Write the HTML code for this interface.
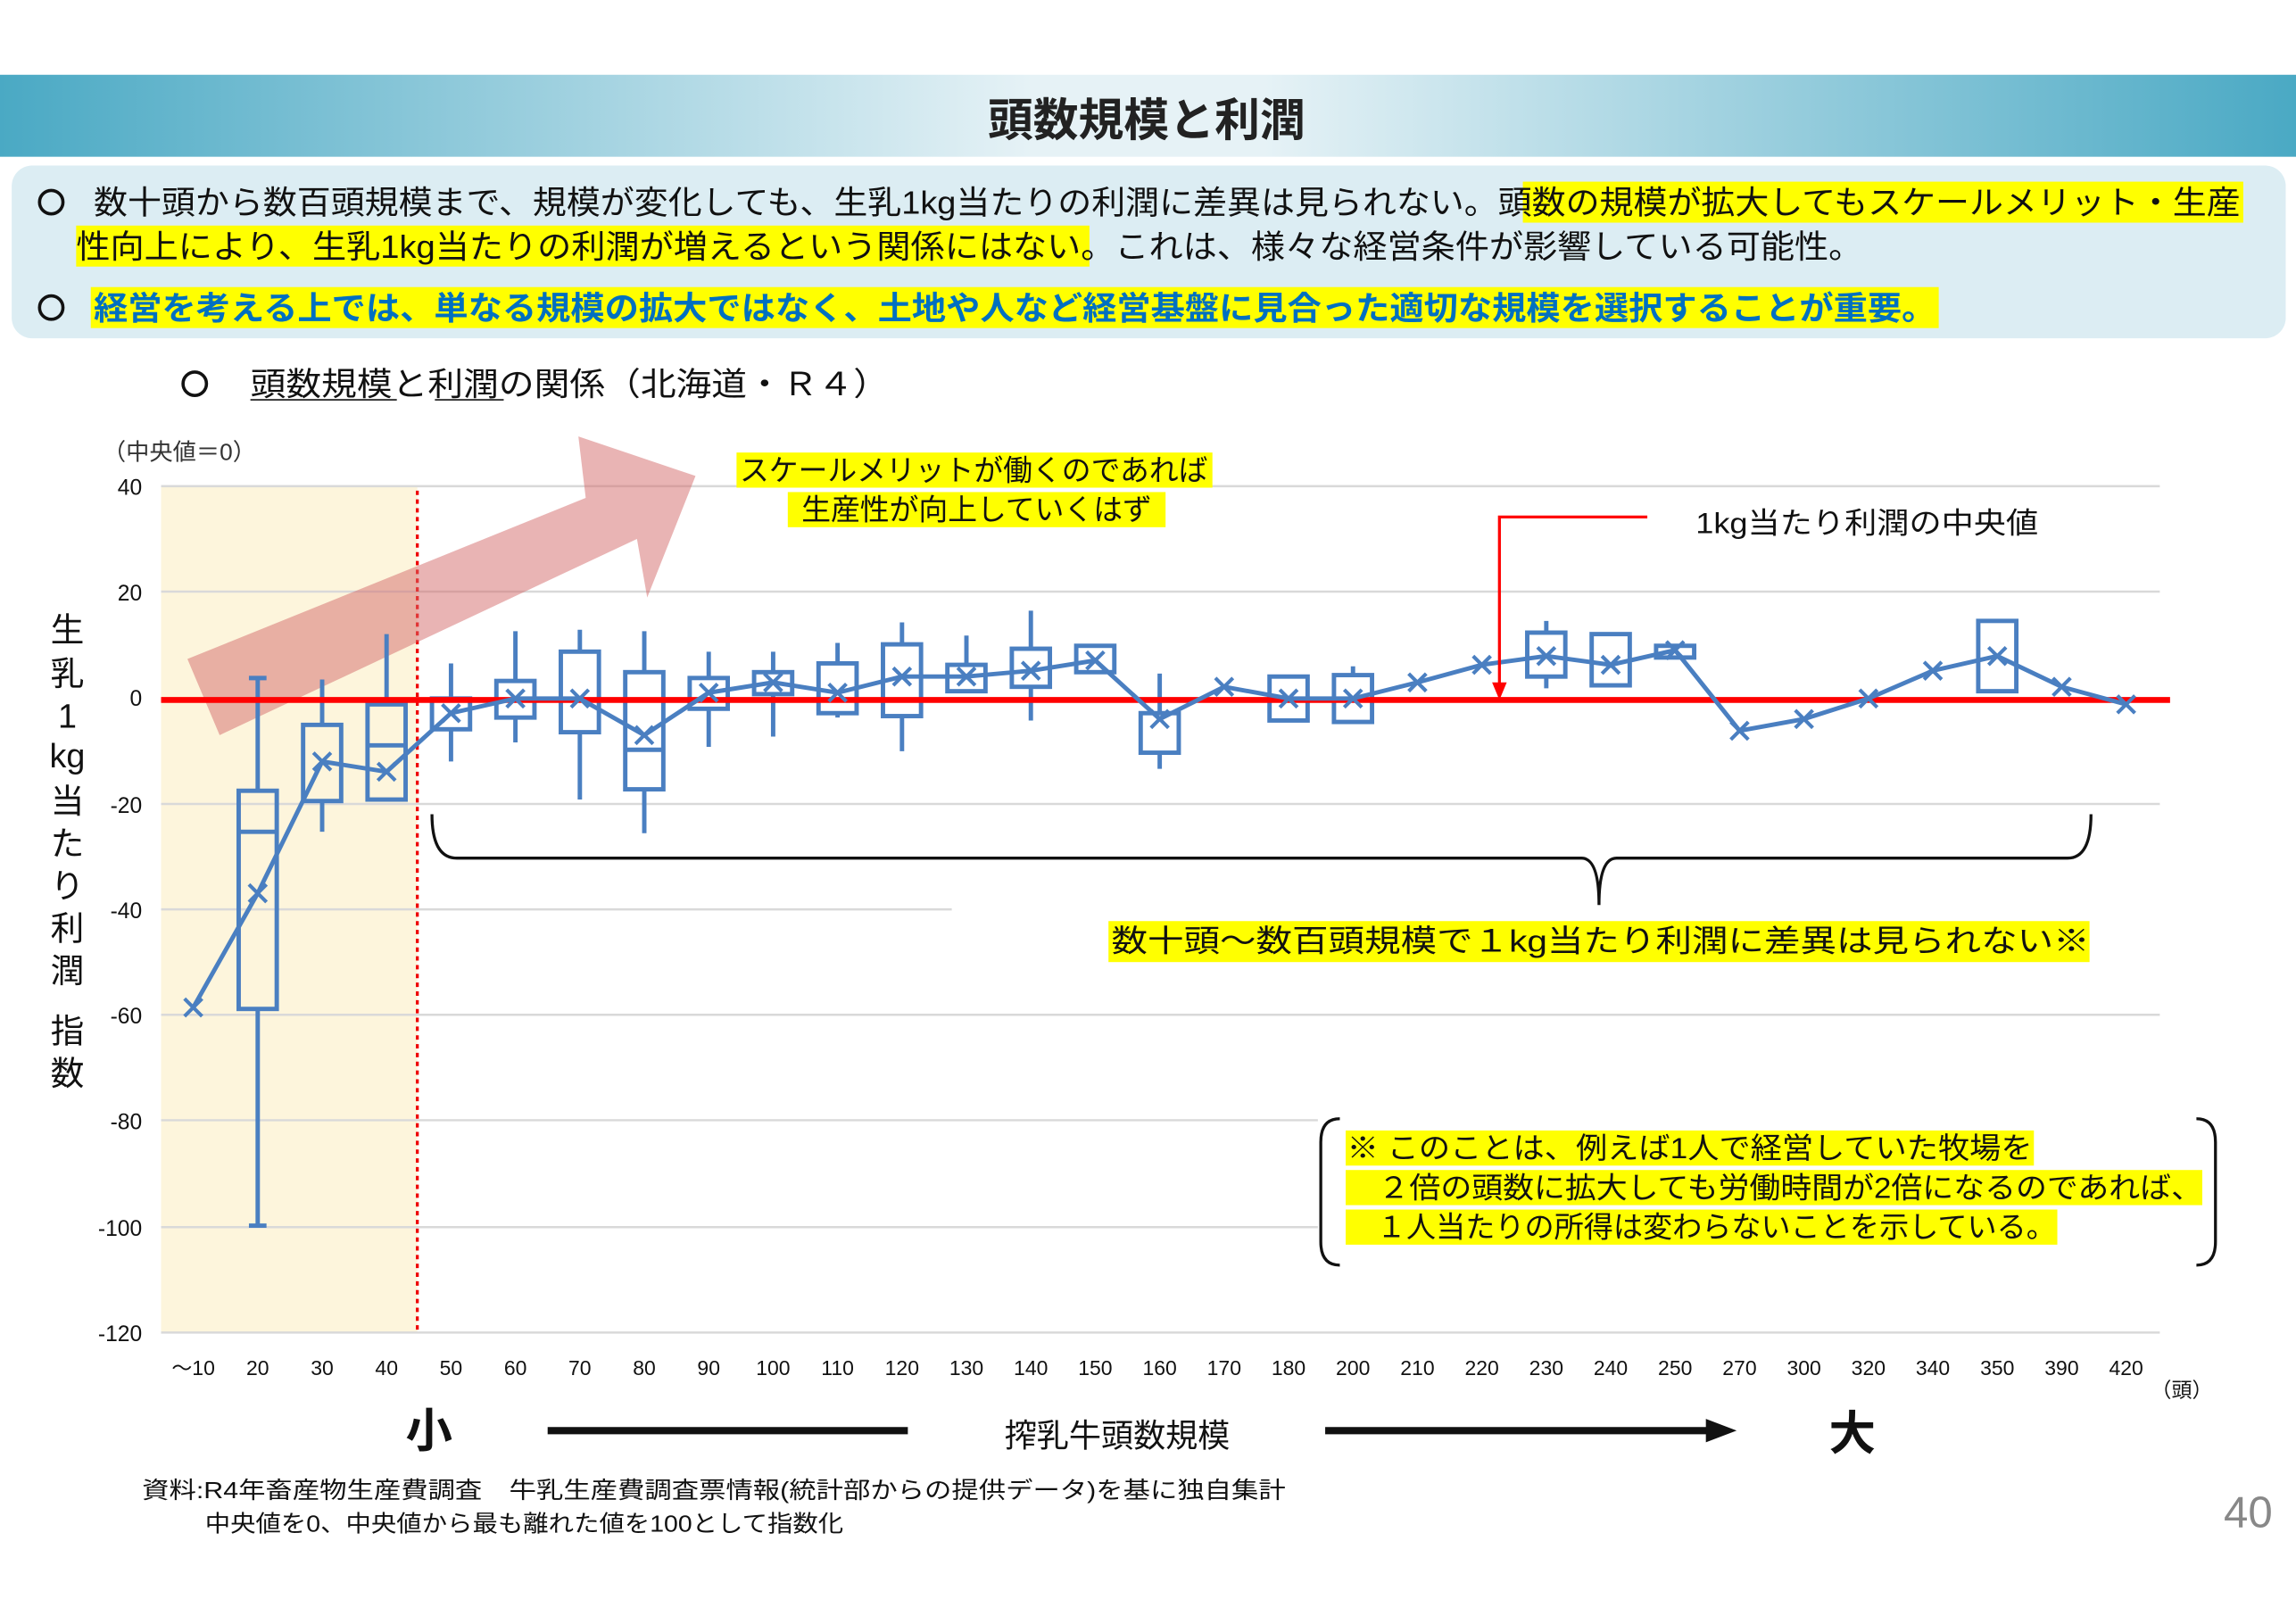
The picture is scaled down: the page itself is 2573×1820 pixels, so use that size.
<!DOCTYPE html>
<html><head><meta charset="utf-8"><style>
html,body{margin:0;padding:0;background:#fff}
svg{display:block}
text{font-family:"Liberation Sans","Noto Sans CJK JP",sans-serif}
</style></head><body>
<svg width="2573" height="1820" viewBox="0 0 1568 1109" xmlns="http://www.w3.org/2000/svg">
<defs>
<linearGradient id="tb" x1="0" x2="1" y1="0" y2="0">
<stop offset="0" stop-color="#4aa9c4"/><stop offset="0.45" stop-color="#e6f2f6"/><stop offset="0.55" stop-color="#e6f2f6"/><stop offset="1" stop-color="#4aa9c4"/>
</linearGradient>
</defs>
<rect x="0" y="51" width="1568" height="56" fill="url(#tb)"/>
<text x="783" y="93" font-size="31" font-weight="bold" text-anchor="middle" fill="#222">頭数規模と利潤</text>
<rect x="8" y="113" width="1553" height="118" rx="14" fill="#dcedf3"/>
<rect x="1040" y="124" width="492" height="28" fill="#ffff00"/>
<rect x="52" y="154" width="692" height="28" fill="#ffff00"/>
<rect x="62" y="196" width="1262" height="28" fill="#ffff00"/>
<g fill="none" stroke="#111" stroke-width="2.2">
<ellipse cx="35" cy="138" rx="8" ry="8"/><ellipse cx="35" cy="210" rx="8" ry="8"/><ellipse cx="133" cy="262" rx="8" ry="8"/>
</g>
<g font-size="22" fill="#111">
<text x="64" y="146" textLength="1466" lengthAdjust="spacingAndGlyphs">数十頭から数百頭規模まで、規模が変化しても、生乳1kg当たりの利潤に差異は見られない。頭数の規模が拡大してもスケールメリット・生産</text>
<text x="52" y="176" textLength="1220" lengthAdjust="spacingAndGlyphs">性向上により、生乳1kg当たりの利潤が増えるという関係にはない。これは、様々な経営条件が影響している可能性。</text>
<text x="64" y="218" font-weight="bold" fill="#0070c0" textLength="1258" lengthAdjust="spacingAndGlyphs">経営を考える上では、単なる規模の拡大ではなく、土地や人など経営基盤に見合った適切な規模を選択することが重要。</text>
</g>
<text x="171" y="270" font-size="22" fill="#111" textLength="436" lengthAdjust="spacingAndGlyphs">頭数規模と利潤の関係（北海道・Ｒ４）</text>
<line x1="171" y1="273" x2="271" y2="273" stroke="#111"/><line x1="297" y1="273" x2="344" y2="273" stroke="#111"/>
<rect x="110" y="332" width="175" height="578" fill="#fdf5dc"/>
<g stroke="#d9d9d9" stroke-width="1.5">
<line x1="110" y1="332" x2="1475" y2="332"/><line x1="110" y1="404" x2="1475" y2="404"/><line x1="110" y1="549" x2="1475" y2="549"/><line x1="110" y1="621" x2="650" y2="621"/><line x1="110" y1="693" x2="1475" y2="693"/><line x1="110" y1="765" x2="900" y2="765"/><line x1="110" y1="838" x2="900" y2="838"/><line x1="110" y1="910" x2="1475" y2="910"/>
</g>
<line x1="285" y1="335" x2="285" y2="910" stroke="#e00" stroke-width="2" stroke-dasharray="3,3"/>
<polygon points="128,450 400,340 395,298 475,325 442,408 435,368 150,502" fill="#d46a6a" opacity="0.5"/>
<g font-size="15" fill="#111" text-anchor="end">
<text x="97" y="338">40</text><text x="97" y="410">20</text><text x="97" y="482">0</text><text x="97" y="555">-20</text><text x="97" y="627">-40</text><text x="97" y="699">-60</text><text x="97" y="771">-80</text><text x="97" y="844">-100</text><text x="97" y="916">-120</text>
</g>
<text x="70" y="314" font-size="16" fill="#333">（中央値＝0）</text>
<g font-size="23" fill="#111" text-anchor="middle">
<text x="46" y="438">生</text><text x="46" y="468">乳</text><text x="46" y="497">1</text><text x="46" y="524">kg</text><text x="46" y="555">当</text><text x="46" y="584">た</text><text x="46" y="613">り</text><text x="46" y="642">利</text><text x="46" y="671">潤</text><text x="46" y="712">指</text><text x="46" y="741">数</text>
</g>
<g font-size="14" fill="#111" text-anchor="middle">
<text x="132" y="939">～10</text><text x="176" y="939">20</text><text x="220" y="939">30</text><text x="264" y="939">40</text><text x="308" y="939">50</text><text x="352" y="939">60</text><text x="396" y="939">70</text><text x="440" y="939">80</text><text x="484" y="939">90</text><text x="528" y="939">100</text><text x="572" y="939">110</text><text x="616" y="939">120</text><text x="660" y="939">130</text><text x="704" y="939">140</text><text x="748" y="939">150</text><text x="792" y="939">160</text><text x="836" y="939">170</text><text x="880" y="939">180</text><text x="924" y="939">200</text><text x="968" y="939">210</text><text x="1012" y="939">220</text><text x="1056" y="939">230</text><text x="1100" y="939">240</text><text x="1144" y="939">250</text><text x="1188" y="939">270</text><text x="1232" y="939">300</text><text x="1276" y="939">320</text><text x="1320" y="939">340</text><text x="1364" y="939">350</text><text x="1408" y="939">390</text><text x="1452" y="939">420</text>
<text x="1490" y="954">（頭）</text>
</g>
<g stroke="#4a7fc1" stroke-width="3" fill="none">
<path d="M176 463V540M176 689V837M170 463h12M170 837h12"/><rect x="163" y="540" width="26" height="149"/><line x1="163" y1="568" x2="189" y2="568"/>
<path d="M220 464V495M220 547V568"/><rect x="207" y="495" width="26" height="52"/>
<path d="M264 433V481"/><rect x="251" y="481" width="26" height="65"/><line x1="251" y1="509" x2="277" y2="509"/>
<path d="M308 453V477M308 498V520"/><rect x="295" y="477" width="26" height="21"/>
<path d="M352 431V465M352 490V507"/><rect x="339" y="465" width="26" height="25"/>
<path d="M396 430V445M396 500V546"/><rect x="383" y="445" width="26" height="55"/>
<path d="M440 431V459M440 539V569"/><rect x="427" y="459" width="26" height="80"/><line x1="427" y1="512" x2="453" y2="512"/>
<path d="M484 445V463M484 484V510"/><rect x="471" y="463" width="26" height="21"/>
<path d="M528 445V459M528 474V503"/><rect x="515" y="459" width="26" height="15"/>
<path d="M572 439V453M572 487V490"/><rect x="559" y="453" width="26" height="34"/>
<path d="M616 425V440M616 489V513"/><rect x="603" y="440" width="26" height="49"/>
<path d="M660 434V454"/><rect x="647" y="454" width="26" height="18"/>
<path d="M704 417V443M704 469V492"/><rect x="691" y="443" width="26" height="26"/>
<rect x="735" y="441" width="26" height="18"/>
<path d="M792 460V487M792 514V525"/><rect x="779" y="487" width="26" height="27"/>
<rect x="867" y="462" width="26" height="30"/>
<path d="M924 455V461"/><rect x="911" y="461" width="26" height="32"/>
<path d="M1056 424V432M1056 462V470"/><rect x="1043" y="432" width="26" height="30"/>
<rect x="1087" y="433" width="26" height="35"/>
<rect x="1131" y="441" width="26" height="8"/>
<rect x="1351" y="424" width="26" height="48"/>
</g>
<line x1="110" y1="478" x2="1482" y2="478" stroke="#ff0000" stroke-width="4"/>
<polyline fill="none" stroke="#4a7fc1" stroke-width="3" points="132,688 176,610 220,520 264,527 308,487 352,477 396,477 440,502 484,473 528,466 572,473 616,462 660,462 704,458 748,451 792,491 836,469 880,477 924,477 968,466 1012,454 1056,448 1100,454 1144,444 1188,499 1232,491 1276,477 1320,458 1364,448 1408,469 1452,481"/>
<g stroke="#4a7fc1" stroke-width="2.5">
<path d="M126 682l12 12M138 682l-12 12M170 604l12 12M182 604l-12 12M214 514l12 12M226 514l-12 12M258 521l12 12M270 521l-12 12M302 481l12 12M314 481l-12 12M346 471l12 12M358 471l-12 12M390 471l12 12M402 471l-12 12M434 496l12 12M446 496l-12 12M478 467l12 12M490 467l-12 12M522 460l12 12M534 460l-12 12M566 467l12 12M578 467l-12 12M610 456l12 12M622 456l-12 12M654 456l12 12M666 456l-12 12M698 452l12 12M710 452l-12 12M742 445l12 12M754 445l-12 12M786 485l12 12M798 485l-12 12M830 463l12 12M842 463l-12 12M874 471l12 12M886 471l-12 12M918 471l12 12M930 471l-12 12M962 460l12 12M974 460l-12 12M1006 448l12 12M1018 448l-12 12M1050 442l12 12M1062 442l-12 12M1094 448l12 12M1106 448l-12 12M1138 438l12 12M1150 438l-12 12M1182 493l12 12M1194 493l-12 12M1226 485l12 12M1238 485l-12 12M1270 471l12 12M1282 471l-12 12M1314 452l12 12M1326 452l-12 12M1358 442l12 12M1370 442l-12 12M1402 463l12 12M1414 463l-12 12M1446 475l12 12M1458 475l-12 12"/>
</g>
<rect x="503" y="309" width="325" height="24" fill="#ffff00"/><rect x="538" y="336" width="258" height="24" fill="#ffff00"/>
<text x="665" y="328" font-size="20" text-anchor="middle" fill="#111">スケールメリットが働くのであれば</text>
<text x="667" y="355" font-size="20" text-anchor="middle" fill="#111">生産性が向上していくはず</text>
<path d="M1125 353H1024V470" fill="none" stroke="#ff0000" stroke-width="2"/><polygon points="1019,466 1029,466 1024,478" fill="#ff0000"/>
<text x="1158" y="364" font-size="20" fill="#111" textLength="234" lengthAdjust="spacingAndGlyphs">1kg当たり利潤の中央値</text>
<path d="M295 556Q295 586 312 586H1080Q1092 586 1092 618Q1092 586 1104 586H1412Q1428 586 1428 556" fill="none" stroke="#111" stroke-width="2"/>
<rect x="757" y="629" width="670" height="28" fill="#ffff00"/>
<text x="759" y="650" font-size="21" fill="#111" textLength="668" lengthAdjust="spacingAndGlyphs">数十頭～数百頭規模で１kg当たり利潤に差異は見られない※</text>
<path d="M915 764Q902 764 902 780V848Q902 864 915 864M1500 764Q1513 764 1513 780V848Q1513 864 1500 864" fill="none" stroke="#111" stroke-width="2"/>
<rect x="919" y="772" width="470" height="24" fill="#ffff00"/><rect x="919" y="799" width="585" height="24" fill="#ffff00"/><rect x="919" y="826" width="486" height="24" fill="#ffff00"/>
<g font-size="20" fill="#111">
<text x="920" y="791" textLength="468" lengthAdjust="spacingAndGlyphs">※ このことは、例えば1人で経営していた牧場を</text>
<text x="920" y="818" textLength="584" lengthAdjust="spacingAndGlyphs">　２倍の頭数に拡大しても労働時間が2倍になるのであれば、</text>
<text x="920" y="845" textLength="484" lengthAdjust="spacingAndGlyphs">　１人当たりの所得は変わらないことを示している。</text>
</g>
<text x="293" y="988" font-size="32" font-weight="bold" text-anchor="middle" fill="#111">小</text>
<line x1="374" y1="977" x2="620" y2="977" stroke="#111" stroke-width="5"/>
<text x="763" y="988" font-size="22" text-anchor="middle" fill="#111">搾乳牛頭数規模</text>
<line x1="905" y1="977" x2="1170" y2="977" stroke="#111" stroke-width="5"/><polygon points="1165,969 1186,977 1165,985" fill="#111"/>
<text x="1265" y="990" font-size="32" font-weight="bold" text-anchor="middle" fill="#111">大</text>
<text x="97" y="1023" font-size="16" fill="#111" textLength="781" lengthAdjust="spacingAndGlyphs">資料:R4年畜産物生産費調査　牛乳生産費調査票情報(統計部からの提供データ)を基に独自集計</text>
<text x="140" y="1046" font-size="16" fill="#111" textLength="436" lengthAdjust="spacingAndGlyphs">中央値を0、中央値から最も離れた値を100として指数化</text>
<text x="1552" y="1043" font-size="30" text-anchor="end" fill="#888">40</text>
</svg>
</body></html>
